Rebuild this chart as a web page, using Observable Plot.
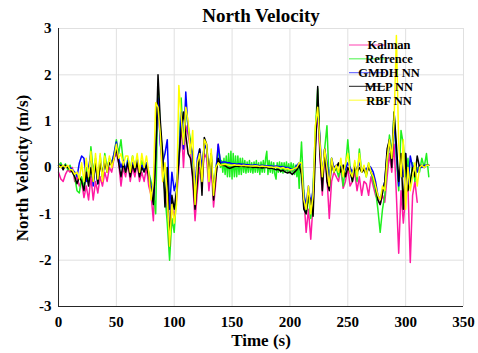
<!DOCTYPE html>
<html>
<head>
<meta charset="utf-8">
<script src="https://cdn.jsdelivr.net/npm/d3@7"></script>
<script src="https://cdn.jsdelivr.net/npm/@observablehq/plot@0.6"></script>
<style>
  html, body { margin: 0; padding: 0; background: #fff; }
  #chart svg { display: block; }
</style>
</head>
<body>
<div id="chart"></div>
<script>
// Sample times (s) for the estimator series
const time = [
  0,2,4,6,8,10,12,14,16,18,
  20,22,24,26,28,30,32,34,36,38,
  40,42,44,46,48,50,52,54,56,58,
  60,62,64,66,68,70,72,74,76,78,
  80,82,84,86,88,90,92,94,96,98,
  100,102,104,106,108,110,112,114,116,118,
  120,122,124,126,128,130,132,134,136,138,
  140,142,144,146,148,150,152,154,156,158,
  160,162,164,166,168,170,172,174,176,178,
  180,182,184,186,188,190,192,194,196,198,
  200,202,204,206,208,210,212,214,216,218,
  220,222,224,226,228,230,232,234,236,238,
  240,242,244,246,248,250,252,254,256,258,
  260,262,264,266,268,270,272,274,276,278,
  280,282,284,286,288,290,292,294,296,298,
  300,302,304,306,308,310,312,314,316,318,
  320
];

// Sample times (s) for the reference (denser in the noisy 139-210 s stretch)
const refTime = [
  0,2,4,6,8,10,12,14,16,18,
  20,22,24,26,28,30,32,34,36,38,
  40,42,44,46,48,50,52,54,56,58,
  60,62,64,66,68,70,72,74,76,78,
  80,82,84,86,88,90,92,94,96,98,
  100,102,104,106,108,110,112,114,116,118,
  120,122,124,126,128,130,132,134,136,138,
  139,140,141,142,143,144,145,146,147,148,149,150,
  151,152,153,154,155,156,157,158,159,160,
  161,162,163,164,165,166,167,168,169,170,
  171,172,173,174,175,176,177,178,179,180,
  181,182,183,184,185,186,187,188,189,190,
  191,192,193,194,195,196,197,198,199,200,
  201,202,203,204,205,206,207,208,209,210,
  212,214,216,218,
  220,222,224,226,228,230,232,234,236,238,
  240,242,244,246,248,250,252,254,256,258,
  260,262,264,266,268,270,272,274,276,278,
  280,282,284,286,288,290,292,294,296,298,
  300,302,304,306,308,310,312,314,316,318,
  320
];

const kalman = [
  -0.10,-0.25,-0.30,-0.15,-0.05,-0.10,0.00,-0.30,-0.20,-0.40,
  -0.30,-0.65,-0.40,-0.70,-0.20,-0.70,-0.30,-0.55,-0.20,-0.40,
  -0.10,-0.30,0.00,-0.10,0.20,0.30,0.10,-0.40,0.00,-0.20,
  0.10,-0.30,0.00,-0.20,0.10,-0.30,-0.10,-0.30,0.00,-0.40,
  -0.60,-1.15,0.30,1.40,0.60,-0.20,-0.50,-1.00,-1.30,-0.80,
  -1.10,-0.70,0.00,1.00,0.00,0.90,0.70,0.40,-0.30,-1.15,
  -0.50,0.00,-0.30,0.30,0.20,-0.50,0.00,-0.85,-0.30,0.50,
  0.05,0.08,0.10,0.10,0.08,0.06,0.05,0.05,0.04,0.05,
  0.05,0.04,0.03,0.03,0.02,0.03,0.02,0.02,0.02,0.01,
  0.02,0.01,0.00,0.00,0.01,-0.02,-0.03,-0.05,-0.03,-0.08,
  -0.10,-0.05,-0.10,0.00,0.00,0.00,-0.60,-1.40,-0.90,-1.55,
  -0.80,0.60,1.20,0.20,-0.60,0.30,-0.20,-1.10,-0.30,-0.10,
  -0.20,-0.30,0.00,-0.45,-0.30,0.00,-0.40,-0.30,-0.10,-0.50,
  -0.20,-0.60,-0.30,-0.35,-0.60,-0.20,-0.40,-0.60,-0.70,-0.80,
  -0.60,-0.75,-0.20,0.30,-0.10,0.50,-0.60,-1.85,-0.50,-1.20,
  -0.60,-0.40,-2.05,-0.60,-0.30,-0.75,null,null,null,null,
  null
];

const reference = [
  0.05,0.10,0.00,0.08,-0.05,0.05,-0.10,-0.20,-0.50,-0.55,
  -0.20,-0.45,0.00,-0.30,0.45,-0.10,0.20,-0.35,0.25,-0.20,
  0.30,0.00,0.20,0.10,0.30,0.60,0.30,0.60,0.10,-0.10,
  0.20,-0.05,0.25,0.00,0.20,-0.10,0.15,-0.05,0.10,-0.10,
  -0.30,-0.50,-1.00,1.80,0.80,0.30,-0.60,-1.20,-2.00,-1.10,
  -1.40,-0.60,0.20,1.50,0.50,1.30,0.90,0.60,0.20,-0.60,
  -0.20,0.30,-0.10,0.50,0.40,-0.30,0.30,-0.60,0.00,0.30,
  0.30,0.00,0.15,-0.10,0.20,-0.15,0.25,-0.20,0.30,-0.20,0.35,-0.25,
  0.30,-0.20,0.25,-0.20,0.25,-0.15,0.20,-0.15,0.20,-0.10,
  0.15,-0.12,0.12,-0.10,0.15,-0.10,0.10,-0.12,0.12,-0.10,
  0.15,-0.10,0.10,-0.15,0.12,-0.10,0.15,-0.10,0.20,0.35,
  -0.15,0.15,-0.10,0.12,-0.12,0.10,-0.15,-0.25,0.10,-0.10,
  0.12,-0.10,0.10,-0.12,0.10,-0.10,0.12,-0.10,0.08,-0.12,
  0.10,-0.10,0.08,-0.15,0.05,-0.20,0.05,-0.45,0.10,0.55,
  -0.50,-1.00,-0.60,-1.10,
  -0.40,0.80,1.70,0.50,-0.30,0.40,0.90,-0.40,0.20,-0.10,
  0.00,-0.20,0.05,-0.40,0.00,0.60,0.00,-0.30,0.10,-0.30,
  0.40,-0.10,0.00,-0.20,0.10,-0.10,-0.30,-0.50,-0.90,-1.40,
  -0.90,-0.60,0.10,0.70,0.30,1.20,0.20,-0.50,0.80,0.50,
  -0.20,0.20,-0.40,0.10,-0.30,0.00,-0.10,0.20,0.00,0.30,
  -0.20
];

const gmdh = [
  0.05,0.05,0.00,0.05,0.00,0.00,-0.05,-0.10,-0.20,0.10,
  0.25,0.20,-0.30,0.00,0.30,-0.40,0.10,-0.35,0.15,-0.15,
  0.15,0.00,0.10,0.10,0.30,0.55,0.20,0.00,0.15,-0.05,
  0.15,-0.10,0.10,-0.05,0.15,-0.10,0.05,-0.05,0.10,-0.15,
  -0.40,-0.70,0.30,1.50,0.50,0.10,0.30,0.60,-0.90,-0.10,
  -0.50,-0.30,0.10,1.20,0.40,1.63,0.80,0.50,0.30,-0.40,
  0.20,0.40,0.00,0.50,0.40,-0.20,0.20,-0.50,-0.10,0.50,
  0.10,0.12,0.12,0.10,0.10,0.08,0.08,0.07,0.08,0.07,
  0.07,0.06,0.06,0.05,0.05,0.06,0.05,0.04,0.05,0.04,
  0.04,0.03,0.03,0.02,0.03,0.02,0.01,0.02,0.00,0.00,
  -0.02,-0.05,-0.03,0.05,0.10,0.05,-0.60,-0.80,-0.40,-0.80,
  -0.50,0.50,1.30,0.60,-0.20,0.40,0.10,-0.30,0.20,0.00,
  0.05,0.05,0.00,0.05,-0.05,0.10,0.00,-0.10,0.05,-0.05,
  0.10,-0.05,0.00,-0.05,0.05,0.00,-0.10,-0.30,-0.60,-0.70,
  -0.50,-0.30,0.30,0.60,0.20,1.00,0.30,-0.40,0.20,-0.20,
  0.30,-0.45,0.25,0.00,0.05,-0.10,0.05,0.00,0.05,0.05,
  0.05
];

const mlp = [
  0.00,0.05,-0.05,0.05,0.00,-0.05,-0.10,-0.20,-0.35,-0.20,
  -0.30,-0.50,-0.10,-0.40,0.00,-0.30,0.10,-0.35,0.10,-0.20,
  0.10,-0.10,0.10,0.05,0.20,0.40,0.10,-0.20,0.10,-0.10,
  0.10,-0.20,0.05,-0.10,0.10,-0.20,0.00,-0.10,0.05,-0.20,
  -0.50,-0.80,0.20,2.00,1.00,0.30,-0.85,0.00,-1.70,-0.60,
  -0.90,-0.50,0.20,0.80,1.20,0.70,0.30,0.20,-0.20,-0.90,
  -0.30,0.40,-0.60,0.65,0.50,-0.10,0.30,-0.70,-0.20,0.20,
  0.05,0.05,0.04,0.00,-0.02,0.00,0.02,0.03,0.02,0.03,
  0.02,0.02,0.01,0.02,0.00,0.01,0.00,0.00,-0.01,0.00,
  0.00,-0.02,-0.01,-0.03,-0.05,-0.04,-0.08,-0.06,-0.10,-0.12,
  -0.10,-0.15,-0.10,-0.05,0.05,-0.15,-0.90,-1.00,-0.60,-0.70,
  -1.05,0.30,1.75,0.30,-0.50,0.40,-0.30,-0.50,0.10,-0.10,
  0.00,0.10,-0.10,0.05,-0.20,0.00,-0.10,-0.30,0.00,-0.10,
  0.00,-0.10,-0.05,-0.15,0.00,-0.10,-0.20,-0.40,-0.70,-0.80,
  -0.55,-0.30,0.40,0.60,0.00,1.20,0.50,-0.30,0.30,-0.90,
  0.30,-0.50,-0.30,0.00,-0.20,0.25,0.00,0.05,0.00,0.05,
  0.05
];

const rbf = [
  0.05,0.00,0.05,0.00,0.05,-0.05,-0.05,-0.15,-0.10,-0.25,
  0.10,-0.30,0.20,-0.20,0.35,-0.30,0.30,-0.25,0.30,-0.30,
  0.25,-0.10,0.25,0.00,0.20,0.50,0.20,0.30,0.05,0.25,
  0.25,-0.10,0.25,0.00,0.30,-0.10,0.30,0.00,0.25,-0.10,
  -0.70,-0.30,1.40,1.30,0.70,-0.30,0.10,-0.60,-1.70,-0.80,
  -1.20,-0.80,1.77,1.10,0.50,1.30,1.00,0.30,0.80,-0.80,
  0.10,0.30,-0.30,0.60,0.50,-0.30,0.40,-0.60,0.00,0.10,
  0.05,0.06,0.07,0.06,0.05,0.05,0.06,0.05,0.05,0.04,
  0.05,0.04,0.04,0.03,0.03,0.04,0.03,0.02,0.03,0.02,
  0.02,0.01,0.01,0.00,0.01,0.00,-0.02,0.00,-0.03,-0.02,
  -0.05,-0.05,-0.02,0.00,0.10,0.10,-0.70,-0.90,-0.40,-1.00,
  -0.60,0.90,1.30,0.50,-0.20,0.40,0.00,-0.40,0.20,-0.10,
  0.05,-0.10,0.20,-0.20,0.10,0.30,-0.10,-0.20,0.15,-0.20,
  0.30,-0.10,0.05,-0.20,0.10,-0.10,-0.20,-0.40,-0.60,-0.70,
  -0.40,-0.50,0.20,0.60,0.20,1.00,2.85,0.50,-0.20,0.60,
  -0.90,0.00,-0.50,-0.20,0.10,-0.40,0.00,0.05,0.00,0.05,
  0.05
];

const seriesNames = ["Kalman", "Refrence", "GMDH NN", "MLP NN", "RBF NN"];
const seriesValues = [kalman, reference, gmdh, mlp, rbf];
const seriesTimes = [time, refTime, time, time, time];
const seriesColors = ["#ff1aa3", "#1ff01f", "#0000ff", "#000000", "#ffff00"];

const xTicks = [0, 50, 100, 150, 200, 250, 300, 350];
const yTicks = [-3, -2, -1, 0, 1, 2, 3];

const titleText = "North Velocity";
const xLabel = "Time (s)";
const yLabel = "North Velocity (m/s)";

const FONT = "'Liberation Serif', 'Times New Roman', serif";

const rows = seriesNames.map((name, i) =>
  seriesTimes[i].map((t, j) => ({t, v: seriesValues[i][j], series: name}))
);

const W = 478, H = 353;
const mL = 58, mR = 15, mT = 28, mB = 47;

const plot = Plot.plot({
  width: W,
  height: H,
  marginLeft: mL,
  marginRight: mR,
  marginTop: mT,
  marginBottom: mB,
  style: {fontFamily: FONT, fontWeight: "bold", fontSize: "15px", background: "#fff", color: "#000"},
  x: {domain: [0, 350], ticks: xTicks, tickFormat: d => String(d), label: null, tickSize: 0, tickPadding: 10},
  y: {domain: [-3, 3], ticks: yTicks, tickFormat: d => String(d), label: null, tickSize: 0, tickPadding: 7},
  marks: [
    Plot.gridX(xTicks, {stroke: "#e0e0e0", strokeOpacity: 1, strokeWidth: 1}),
    Plot.gridY(yTicks, {stroke: "#e0e0e0", strokeOpacity: 1, strokeWidth: 1}),
    ...rows.map((data, i) => Plot.line(data, {
      x: "t", y: "v", stroke: seriesColors[i], strokeWidth: 1.5,
      strokeLinejoin: "round", curve: "linear"
    })),
    Plot.ruleX([0], {stroke: "#262626", strokeWidth: 1}),
    Plot.ruleY([-3], {stroke: "#262626", strokeWidth: 1})
  ]
});

document.getElementById("chart").appendChild(plot);

const svg = d3.select(plot);
svg.append("text")
  .attr("x", 261).attr("y", 22)
  .attr("text-anchor", "middle")
  .style("font-family", FONT).style("font-weight", "bold").style("font-size", "19px")
  .text(titleText);
svg.append("text")
  .attr("x", 261).attr("y", 346)
  .attr("text-anchor", "middle")
  .style("font-family", FONT).style("font-weight", "bold").style("font-size", "17px")
  .text(xLabel);
svg.append("text")
  .attr("transform", "translate(28,168) rotate(-90)")
  .attr("text-anchor", "middle")
  .style("font-family", FONT).style("font-weight", "bold").style("font-size", "17px")
  .text(yLabel);

// Legend (inside the axes, no box)
const lg = svg.append("g");
seriesNames.forEach((name, i) => {
  const y = 45 + i * 13.8;
  lg.append("line")
    .attr("x1", 349).attr("x2", 385).attr("y1", y).attr("y2", y)
    .attr("stroke", seriesColors[i]).attr("stroke-width", 1.4)
    .attr("stroke-opacity", i === 3 ? 0.7 : 0.55);
  lg.append("text")
    .attr("x", 389).attr("y", y)
    .attr("dy", "0.35em")
    .style("font-family", FONT).style("font-weight", "bold").style("font-size", "12.5px")
    .text(name);
});
</script>
</body>
</html>
